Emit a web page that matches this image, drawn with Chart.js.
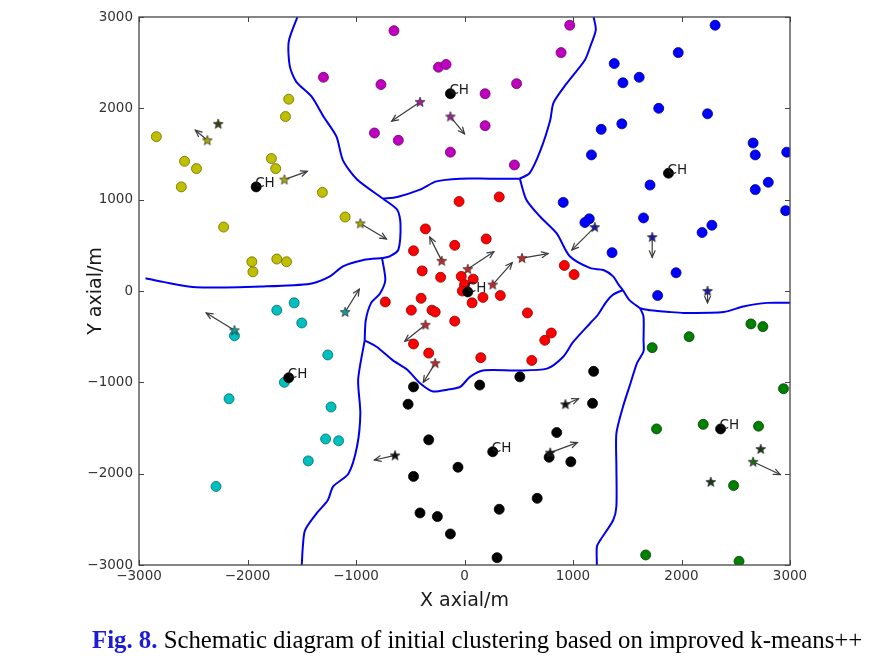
<!DOCTYPE html>
<html><head><meta charset="utf-8">
<script src="https://cdn.jsdelivr.net/npm/chart.js@4.4.1/dist/chart.umd.min.js"></script>
<style>
html,body{margin:0;padding:0;background:#fff;}
#wrap{position:relative;width:891px;height:664px;overflow:hidden;}
canvas{position:absolute;left:0;top:0;}
#cap{position:absolute;left:92px;top:626px;font-family:"Liberation Serif","Times New Roman",serif;font-size:24.8px;line-height:28px;color:#000;white-space:nowrap;}
#cap b{color:#1c1cd6;}
</style></head><body>
<div id="wrap"><canvas id="c" width="891" height="664"></canvas>
<div id="cap"><b>Fig. 8.</b> Schematic diagram of initial clustering based on improved k-means++</div></div>
<script>
// ---------- axis ticks ----------
const xTicks = [-3000,-2000,-1000,0,1000,2000,3000];
const yTicks = [-3000,-2000,-1000,0,1000,2000,3000];

// ---------- cluster member nodes ----------
const yellowX = [-2840,-2580,-2470,-2610,-2220,-1960,-1950,-1730,-1640,-1620,-1650,-1780,-1740,-1310,-1100];
const yellowY = [1690,1420,1340,1140,700,320,210,350,320,2100,1910,1450,1340,1080,810];
const magentaX = [-650,-240,-170,-1300,-770,-830,-610,-130,970,890,480,190,190,460];
const magentaY = [2850,2450,2480,2340,2260,1730,1650,1520,2910,2610,2270,2160,1810,1380];
const blueX = [2310,1970,1380,1610,1460,1790,2240,1450,1260,1170,2660,2680,2970,2800,2680,2960,1710,910,1150,1110,1650,2280,2190,1360,1950,1780];
const blueY = [2910,2610,2490,2340,2280,2000,1940,1830,1770,1490,1620,1490,1520,1190,1110,880,1160,970,790,750,800,720,640,420,200,-50];
const redX = [-50,320,-360,-470,-90,200,-390,-220,-30,80,0,-20,330,170,70,-400,-730,-490,-300,-270,-90,580,800,740,-470,-330,150,620,920,1010];
const redY = [980,1030,680,440,500,570,220,150,160,130,70,0,-50,-70,-130,-80,-120,-210,-210,-230,-330,-240,-460,-540,-580,-680,-730,-760,280,180];
const cyanX = [-1570,-1730,-1500,-2120,-1260,-1660,-2170,-1230,-1280,-1160,-1440,-2290];
const cyanY = [-130,-210,-350,-490,-700,-1000,-1180,-1270,-1620,-1640,-1860,-2140];
const blackX = [-470,-520,-330,-60,-470,-410,-250,-130,140,510,1190,1180,850,780,980,670,320,300];
const blackY = [-1050,-1240,-1630,-1930,-2030,-2430,-2470,-2660,-1030,-940,-880,-1230,-1550,-1820,-1870,-2270,-2390,-2920];
const greenX = [2640,2750,2070,1730,2940,1770,2200,2710,2480,1670,2530];
const greenY = [-360,-390,-500,-620,-1070,-1510,-1460,-1480,-2130,-2890,-2960];

// ---------- cluster heads (CH) ----------
const chX = [-130,1880,-1920,30,-1620,260,2360];
const chY = [2160,1290,1140,-10,-950,-1760,-1510];
const chLabel = ['CH','CH','CH','CH','CH','CH','CH'];

// ---------- initial centres (stars) and their moves (arrows) ----------
const starCluster = ['yellow','yellow','yellow','magenta','magenta','blue','blue','blue','red','red','red','red','red','red','cyan','cyan','black','black','black','green'];
const starX = [-2370,-1660,-960,-410,-130,1200,1730,2240,-210,30,260,530,-360,-270,-2120,-1100,-640,930,790,2660];
const starY = [1650,1220,740,2070,1910,700,590,0,330,240,70,360,-370,-790,-430,-230,-1800,-1240,-1770,-1870];
const moveX = [-2480,-1450,-720,-670,0,990,1730,2240,-320,270,440,770,-550,-380,-2380,-970,-830,1050,1040,2910];
const moveY = [1760,1310,570,1860,1720,450,370,-130,590,430,310,410,-550,-1000,-240,20,-1850,-1180,-1660,-2010];
// stationary centres (no arrow)
const fixedCluster = ['yellow','green','green'];
const fixedX = [-2270,2730,2270];
const fixedY = [1830,-1730,-2090];

// ---------- cluster boundaries ----------
const bYellowMagentaX = [-1540,-1620,-1610,-1550,-1410,-1300,-1180,-1120,-990,-750];
const bYellowMagentaY = [3000,2730,2460,2290,2130,1910,1690,1430,1220,1010];
const bYellowRedX = [-750,-620,-590,-610,-690,-760];
const bYellowRedY = [1010,890,740,450,380,360];
const bYellowCyanX = [-760,-930,-1120,-1240,-1420,-1850,-2470,-2780,-2940];
const bYellowCyanY = [360,340,270,160,80,50,40,100,140];
const bCyanRedX = [-760,-730,-780,-860,-910,-920];
const bCyanRedY = [360,120,-30,-130,-320,-540];
const bCyanBlackX = [-920,-980,-960,-990,-1070,-1210,-1260,-1360,-1470,-1490,-1500];
const bCyanBlackY = [-540,-970,-1340,-1700,-2000,-2140,-2290,-2430,-2620,-2800,-3000];
const bRedBlackX = [-920,-810,-660,-530,-410,-290,-160,-40,50,170,480,760,910,1000,1160,1230,1300,1370,1460];
const bRedBlackY = [-540,-610,-760,-860,-1010,-1100,-1080,-1050,-940,-870,-870,-850,-720,-560,-350,-260,-130,-40,10];
const bRedMagentaX = [-750,-620,-410,-260,-40,230,510];
const bRedMagentaY = [1010,1030,1110,1200,1230,1230,1230];
const bRedBlueX = [1460,1420,1370,1280,1160,970,850,700,570,510];
const bRedBlueY = [10,70,160,230,250,380,630,810,1000,1230];
const bMagentaBlueX = [510,600,700,790,820,940,1110,1160,1210,1190];
const bMagentaBlueY = [1230,1290,1540,1870,2060,2270,2530,2680,2860,3000];
const bJunctionX = [1460,1520,1620];
const bJunctionY = [10,-100,-190];
const bBlueGreenX = [1620,1710,1890,2020,2390,2570,2790,3000];
const bBlueGreenY = [-190,-210,-230,-240,-230,-170,-130,-130];
const bBlackGreenX = [1620,1650,1650,1650,1590,1530,1460,1400,1400,1400,1370,1250,1220,1220];
const bBlackGreenY = [-190,-280,-540,-660,-790,-1010,-1270,-1560,-1920,-2360,-2510,-2730,-2800,-3000];

// ---------- styling ----------
const fill = {yellow:'#bfbf00', magenta:'#bf00bf', blue:'#0000ff', red:'#ff0000', cyan:'#00bfbf', black:'#000000', green:'#008000'};
const edge = {yellow:'#6b6b00', magenta:'#6b006b', blue:'#00008a', red:'#8a0000', cyan:'#006b6b', black:'#000000', green:'#003f00'};
const starFill = {yellow:'#a8a800', magenta:'#a0209a', blue:'#1a1aa0', red:'#c02828', cyan:'#109a9a', black:'#111111', green:'#1a6a1a'};
const fixedFill = {yellow:'#3e3e10', green:'#1a3a1a'};

function pts(xs, ys){ return xs.map((x,i)=>({x:x, y:ys[i]})); }
function starImg(color){
  const c = document.createElement('canvas'); c.width = 12; c.height = 12;
  const g = c.getContext('2d'); const R = 5.2, r = 2.2, cx = 6, cy = 6.3;
  g.beginPath();
  for(let k=0;k<10;k++){
    const a = -Math.PI/2 + k*Math.PI/5, rr = (k%2===0)?R:r;
    const px = cx + rr*Math.cos(a), py = cy + rr*Math.sin(a);
    if(k===0) g.moveTo(px,py); else g.lineTo(px,py);
  }
  g.closePath(); g.fillStyle = color; g.fill();
  g.lineWidth = 0.7; g.strokeStyle = '#2a2a2a'; g.stroke();
  return c;
}
const starStyles = starCluster.map(c=>starImg(starFill[c])).concat(fixedCluster.map(c=>starImg(fixedFill[c])));

function dotSet(name, xs, ys){
  return {label:name, type:'scatter', data:pts(xs,ys), pointRadius:5, pointHoverRadius:5,
    backgroundColor:fill[name], borderColor:edge[name], borderWidth:0.8, order:5};
}
function lineSet(xs, ys){
  return {label:'boundary', type:'scatter', data:pts(xs,ys), showLine:true, pointRadius:0,
    borderColor:'#0000ee', borderWidth:2, fill:false, tension:0.25, order:10};
}
const boundaries = [
  [bYellowMagentaX,bYellowMagentaY],[bYellowRedX,bYellowRedY],[bYellowCyanX,bYellowCyanY],
  [bCyanRedX,bCyanRedY],[bCyanBlackX,bCyanBlackY],[bRedBlackX,bRedBlackY],[bRedMagentaX,bRedMagentaY],
  [bRedBlueX,bRedBlueY],[bMagentaBlueX,bMagentaBlueY],[bJunctionX,bJunctionY],[bBlueGreenX,bBlueGreenY],[bBlackGreenX,bBlackGreenY]
];

const datasets = [];
boundaries.forEach(b=>datasets.push(lineSet(b[0],b[1])));
datasets.push(dotSet('yellow',yellowX,yellowY));
datasets.push(dotSet('magenta',magentaX,magentaY));
datasets.push(dotSet('blue',blueX,blueY));
datasets.push(dotSet('red',redX,redY));
datasets.push(dotSet('cyan',cyanX,cyanY));
datasets.push(dotSet('black',blackX,blackY));
datasets.push(dotSet('green',greenX,greenY));
datasets.push({label:'CH', type:'scatter', data:pts(chX,chY), pointRadius:5, backgroundColor:'#000', borderColor:'#000', borderWidth:0.8, order:4});
datasets.push({label:'stars', type:'scatter', data:pts(starX.concat(fixedX), starY.concat(fixedY)), pointStyle:starStyles, pointRadius:6, order:1, isStars:true});

const minus = v => (v<0 ? '\u2212' + Math.abs(v) : String(v));

const framePlugin = {
  id:'frame',
  beforeDatasetDraw(chart, args){
    const ds = chart.data.datasets[args.index];
    if(!ds.isStars) return;
    const ctx = chart.ctx, xs = chart.scales.x, ys = chart.scales.y;
    ctx.save();
    ctx.strokeStyle = '#3a3a3a'; ctx.lineWidth = 1.2; ctx.lineCap = 'round';
    for(let i=0;i<starX.length;i++){
      const x1 = xs.getPixelForValue(starX[i]), y1 = ys.getPixelForValue(starY[i]);
      const x2 = xs.getPixelForValue(moveX[i]), y2 = ys.getPixelForValue(moveY[i]);
      ctx.beginPath(); ctx.moveTo(x1,y1); ctx.lineTo(x2,y2); ctx.stroke();
      const a = Math.atan2(y2-y1, x2-x1), L = 7, w = 0.42;
      ctx.beginPath();
      ctx.moveTo(x2 - L*Math.cos(a-w), y2 - L*Math.sin(a-w));
      ctx.lineTo(x2, y2);
      ctx.lineTo(x2 - L*Math.cos(a+w), y2 - L*Math.sin(a+w));
      ctx.stroke();
    }
    ctx.restore();
  },
  afterDatasetsDraw(chart){
    const ctx = chart.ctx, xs = chart.scales.x, ys = chart.scales.y, a = chart.chartArea;
    ctx.save();
    // CH labels
    ctx.fillStyle = '#1a1a1a'; ctx.font = '13.5px "DejaVu Sans"'; ctx.textBaseline = 'alphabetic'; ctx.textAlign = 'left';
    for(let i=0;i<chX.length;i++){
      ctx.fillText(chLabel[i], xs.getPixelForValue(chX[i]) - 1, ys.getPixelForValue(chY[i]) + 0.5);
    }
    // frame
    ctx.strokeStyle = '#444'; ctx.lineWidth = 1.3;
    ctx.strokeRect(a.left, a.top, a.right - a.left, a.bottom - a.top);
    // inward ticks on all sides
    ctx.lineWidth = 1;
    const T = 5;
    xs.ticks.forEach(t=>{
      const p = Math.round(xs.getPixelForValue(t.value)) + 0.5;
      ctx.beginPath(); ctx.moveTo(p, a.bottom); ctx.lineTo(p, a.bottom - T);
      ctx.moveTo(p, a.top); ctx.lineTo(p, a.top + T); ctx.stroke();
    });
    ys.ticks.forEach(t=>{
      const p = Math.round(ys.getPixelForValue(t.value)) + 0.5;
      ctx.beginPath(); ctx.moveTo(a.left, p); ctx.lineTo(a.left + T, p);
      ctx.moveTo(a.right, p); ctx.lineTo(a.right - T, p); ctx.stroke();
    });
    ctx.restore();
  }
};

const tickFont = {family:'"DejaVu Sans"', size:13.5};
new Chart(document.getElementById('c'), {
  type:'scatter',
  data:{datasets:datasets},
  options:{
    responsive:false, animation:false, devicePixelRatio:1,
    layout:{padding:{left:0, top:17, right:101, bottom:39}},
    plugins:{legend:{display:false}, tooltip:{enabled:false}},
    scales:{
      x:{type:'linear', position:'bottom', min:-3000, max:3000,
        afterBuildTicks:s=>{ s.ticks = xTicks.map(v=>({value:v})); },
        afterFit:s=>{ s.height = 60; },
        ticks:{font:tickFont, color:'#333', padding:3, maxRotation:0, autoSkip:false, callback:v=>minus(v)},
        grid:{display:false, drawTicks:false}, border:{display:false},
        title:{display:true, text:'X axial/m', color:'#1a1a1a', font:{family:'"DejaVu Sans"', size:19}, padding:{top:0, bottom:12.6}}
      },
      y:{type:'linear', position:'left', min:-3000, max:3000,
        afterBuildTicks:s=>{ s.ticks = yTicks.map(v=>({value:v})); },
        afterFit:s=>{ s.width = 139; },
        ticks:{font:tickFont, color:'#333', padding:6, autoSkip:false, callback:v=>minus(v)},
        grid:{display:false, drawTicks:false}, border:{display:false},
        title:{display:true, text:'Y axial/m', color:'#1a1a1a', font:{family:'"DejaVu Sans"', size:19}, padding:{top:85, bottom:0}}
      }
    }
  },
  plugins:[framePlugin]
});
</script>
</body></html>
